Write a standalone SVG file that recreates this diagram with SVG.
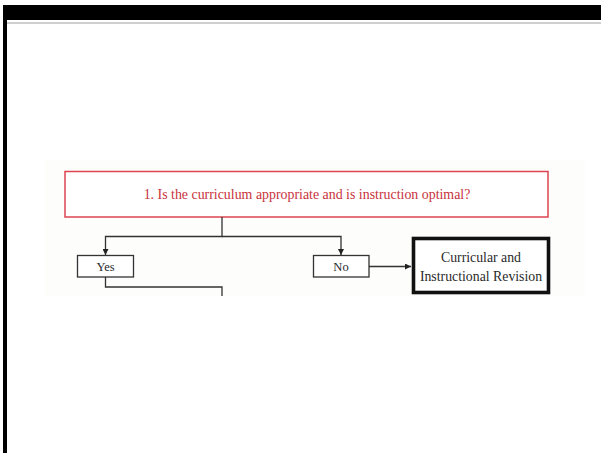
<svg xmlns="http://www.w3.org/2000/svg" width="601" height="453" viewBox="0 0 601 453">
  <defs>
    <marker id="arrow" viewBox="0 0 8 8" refX="8" refY="4" markerWidth="6" markerHeight="6" orient="auto" markerUnits="userSpaceOnUse">
      <path d="M0,0 L8,4 L0,8 Z" fill="#222"/>
    </marker>
    <style>
      .lbl { font-family: "Liberation Serif", "Times New Roman", serif; fill: #2a2a2a; text-anchor: middle; }
      .q { font-family: "Liberation Serif", "Times New Roman", serif; fill: #c8323c; text-anchor: middle; font-size: 13.9px; }
      .box { fill: #fff; stroke: #333; stroke-width: 1.3; }
      .wire { fill: none; stroke: #333; stroke-width: 1.3; }
    </style>
  </defs>

  <rect x="0" y="0" width="601" height="453" fill="#fff"/>

  <!-- page frame -->
  <rect x="3" y="5" width="598" height="15" fill="#000"/>
  <rect x="3" y="20" width="4" height="433" fill="#000"/>
  <rect x="7" y="22" width="594" height="2" fill="#cfcfcf"/>

  <!-- flowchart panel -->
  <rect x="45" y="160" width="540" height="136" fill="#fdfdfc"/>

  <g id="question">
    <rect x="65" y="171.5" width="483" height="45.5" fill="#fff" stroke="#dd4450" stroke-width="1.5"/>
    <text class="q" x="307" y="199">1. Is the curriculum appropriate and is instruction optimal?</text>
  </g>

  <g id="yes">
    <rect class="box" x="77.5" y="255.5" width="56" height="21.5"/>
    <text class="lbl" x="105.5" y="271" font-size="12.5">Yes</text>
  </g>

  <g id="no">
    <rect class="box" x="313.5" y="255.5" width="55.5" height="21.5"/>
    <text class="lbl" x="341" y="271" font-size="12.5">No</text>
  </g>

  <g id="revision">
    <rect x="413.5" y="238.5" width="135" height="54" fill="#fff" stroke="#111" stroke-width="3.6"/>
    <text class="lbl" x="481" y="262" font-size="13.8">Curricular and</text>
    <text class="lbl" x="481" y="280.5" font-size="13.8">Instructional Revision</text>
  </g>

  <g id="connectors">
    <path class="wire" d="M222,217 V236.5 H105.5 V255" marker-end="url(#arrow)"/>
    <path class="wire" d="M222,236.5 H341 V255" marker-end="url(#arrow)"/>
    <path class="wire" d="M369,266.5 H411" marker-end="url(#arrow)"/>
    <path class="wire" d="M105.5,277 V287 H222 V296"/>
  </g>
</svg>
